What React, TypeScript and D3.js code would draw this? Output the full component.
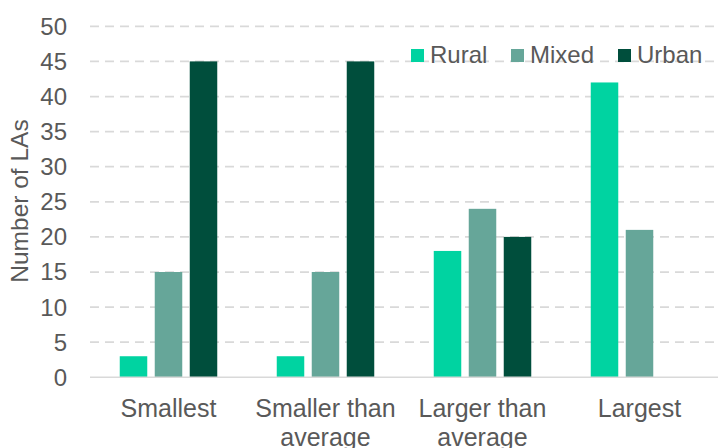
import React from "react";
import * as d3 from "d3";

// Number of local authorities by size band and rural/urban classification
const categories: string[][] = [
  ["Smallest"],
  ["Smaller than", "average"],
  ["Larger than", "average"],
  ["Largest"],
];
const seriesNames = ["Rural", "Mixed", "Urban"];
const rural = [3, 3, 18, 42];
const mixed = [15, 15, 24, 21];
const urban = [45, 45, 20, 0];
const yTicks = [0, 5, 10, 15, 20, 25, 30, 35, 40, 45, 50];
const yLabel = "Number of LAs";

const colors = ["#00D3A1", "#66A699", "#004E3C"];
const W = 718;
const H = 448;
const FONT = "'Liberation Sans', Arial, Helvetica, sans-serif";
const TEXT = "#595959";
const GRID = "#D9D9D9";

export default function App() {
  const series = [rural, mixed, urban];
  const left = 90;
  const right = 718;
  const x0 = d3
    .scaleBand<number>()
    .domain(d3.range(categories.length))
    .range([left, right])
    .paddingInner(0)
    .paddingOuter(0);
  const x1 = d3
    .scaleBand<number>()
    .domain(d3.range(seriesNames.length))
    .range([0, x0.bandwidth()])
    .paddingInner(0.214)
    .paddingOuter(0.85);
  const y = d3.scaleLinear().domain([0, 50]).range([377.3, 26.3]);

  const legendX = [411, 511, 618];

  return (
    <svg
      width={W}
      height={H}
      style={{ position: "absolute", left: 0, top: 0, background: "#fff" }}
      fontFamily={FONT}
    >
      {/* gridlines */}
      {yTicks
        .filter((t) => t > 0)
        .map((t) => (
          <line
            key={t}
            x1={left}
            x2={right}
            y1={y(t)}
            y2={y(t)}
            stroke={GRID}
            strokeWidth={1.75}
            strokeDasharray="9,6"
          />
        ))}
      {/* bars */}
      {series.map((vals, si) =>
        vals.map((v, ci) =>
          v > 0 ? (
            <rect
              key={`${si}-${ci}`}
              x={(x0(ci) ?? 0) + (x1(si) ?? 0)}
              y={y(v)}
              width={x1.bandwidth()}
              height={y(0) - y(v)}
              fill={colors[si]}
            />
          ) : null
        )
      )}
      {/* baseline */}
      <line x1={left} x2={right} y1={y(0)} y2={y(0)} stroke={GRID} strokeWidth={1.5} />
      {/* y tick labels */}
      {yTicks.map((t) => (
        <text
          key={t}
          x={67}
          y={y(t)}
          dy="0.35em"
          textAnchor="end"
          fontSize={24}
          fill={TEXT}
        >
          {t}
        </text>
      ))}
      {/* category labels */}
      {categories.map((lines, ci) => (
        <text
          key={ci}
          x={(x0(ci) ?? 0) + x0.bandwidth() / 2}
          y={416.5}
          textAnchor="middle"
          fontSize={25}
          fill={TEXT}
        >
          {lines.map((ln, li) => (
            <tspan key={li} x={(x0(ci) ?? 0) + x0.bandwidth() / 2} dy={li === 0 ? 0 : 29.5}>
              {ln}
            </tspan>
          ))}
        </text>
      ))}
      {/* y axis title */}
      <text
        transform={`translate(28,201) rotate(-90)`}
        textAnchor="middle"
        fontSize={24.5}
        fill={TEXT}
      >
        {yLabel}
      </text>
      {/* legend */}
      {seriesNames.map((name, i) => (
        <g key={name} transform={`translate(${legendX[i]},49)`}>
          <rect width={13} height={13} fill={colors[i]} />
          <text x={19} y={14} fontSize={24} fill={TEXT}>
            {name}
          </text>
        </g>
      ))}
    </svg>
  );
}
